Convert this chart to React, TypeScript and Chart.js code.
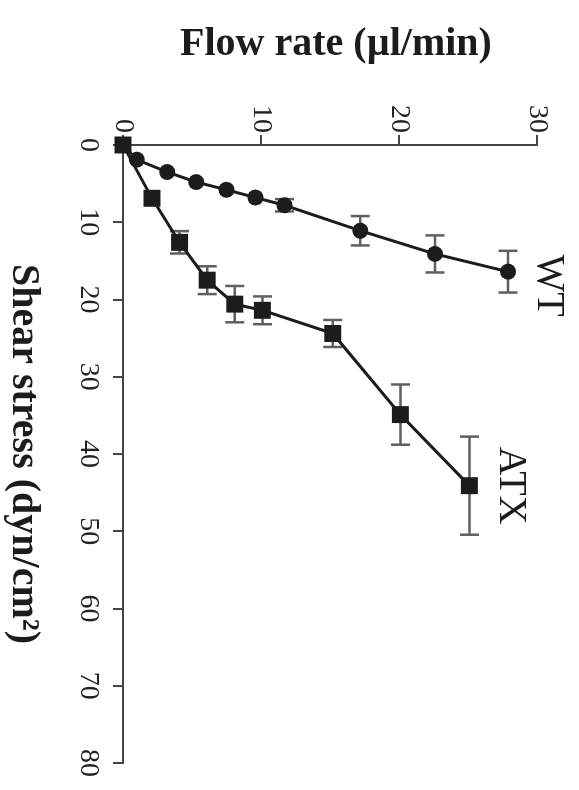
import React, { useEffect, useRef } from "react";
import { Chart, registerables } from "chart.js";

Chart.register(...registerables);

// Data (shear stress in dyn/cm², flow rate in µl/min); error bars are SD on shear stress
const wtShear = [0, 1.9, 3.5, 4.8, 5.8, 6.8, 7.8, 11.1, 14.1, 16.4];
const wtFlow = [0, 1.0, 3.2, 5.3, 7.5, 9.6, 11.7, 17.2, 22.6, 27.9];
const wtSD = [0, 0, 0, 0, 0, 0, 0.8, 1.9, 2.4, 2.7];

const atxShear = [0, 6.9, 12.6, 17.5, 20.6, 21.4, 24.4, 34.9, 44.1];
const atxFlow = [0, 2.1, 4.1, 6.1, 8.1, 10.1, 15.2, 20.1, 25.1];
const atxSD = [0, 0, 1.45, 1.8, 2.35, 1.8, 1.75, 3.9, 6.35];

const seriesNames = ["WT", "ATX"];
const shearTicks = [0, 10, 20, 30, 40, 50, 60, 70, 80];
const flowTicks = [0, 10, 20, 30];
const shearTitle = "Shear stress (dyn/cm²)";
const flowTitle = "Flow rate (µl/min)";

const INK = "#1c1c1c";
const SERIF = "'Liberation Serif', 'Times New Roman', serif";

const decorPlugin = {
  id: "decor",
  beforeDatasetsDraw(chart: any) {
    const { ctx, scales } = chart;
    const x = scales.x;
    const y = scales.y;
    ctx.save();
    ctx.strokeStyle = "#606060";
    ctx.lineWidth = 2.5;
    const cap = 9.5;
    const drawBars = (sh: number[], fl: number[], sd: number[]) => {
      sh.forEach((s, i) => {
        if (!sd[i]) return;
        const py = y.getPixelForValue(fl[i]);
        const x1 = x.getPixelForValue(s - sd[i]);
        const x2 = x.getPixelForValue(s + sd[i]);
        ctx.beginPath();
        ctx.moveTo(x1, py);
        ctx.lineTo(x2, py);
        ctx.moveTo(x1, py - cap);
        ctx.lineTo(x1, py + cap);
        ctx.moveTo(x2, py - cap);
        ctx.lineTo(x2, py + cap);
        ctx.stroke();
      });
    };
    drawBars(wtShear, wtFlow, wtSD);
    drawBars(atxShear, atxFlow, atxSD);
    ctx.restore();
  },
  afterDraw(chart: any) {
    const { ctx, scales, chartArea } = chart;
    const x = scales.x;
    const y = scales.y;
    ctx.save();
    ctx.fillStyle = INK;
    // axis titles
    ctx.font = `bold 40px ${SERIF}`;
    ctx.textAlign = "center";
    ctx.textBaseline = "alphabetic";
    ctx.fillText(shearTitle, (chartArea.left + chartArea.right) / 2, 566);
    ctx.save();
    ctx.translate(55, (chartArea.top + chartArea.bottom) / 2 - 6);
    ctx.rotate(-Math.PI / 2);
    ctx.fillText(flowTitle, 0, 0);
    ctx.restore();
    // series labels next to last points
    ctx.font = `40px ${SERIF}`;
    const wtLast = wtShear.length - 1;
    ctx.fillText(
      seriesNames[0],
      x.getPixelForValue(wtShear[wtLast]) + 14,
      y.getPixelForValue(wtFlow[wtLast]) - 30
    );
    const atxLast = atxShear.length - 1;
    ctx.fillText(
      seriesNames[1],
      x.getPixelForValue(atxShear[atxLast]),
      y.getPixelForValue(atxFlow[atxLast]) - 31
    );
    ctx.restore();
  },
};

export default function App() {
  const canvasRef = useRef<HTMLCanvasElement | null>(null);

  useEffect(() => {
    if (!canvasRef.current) return;
    const chart = new Chart(canvasRef.current, {
      type: "scatter",
      data: {
        datasets: [
          {
            label: seriesNames[1],
            data: atxShear.map((s, i) => ({ x: s, y: atxFlow[i] })),
            showLine: true,
            borderColor: INK,
            backgroundColor: INK,
            borderWidth: 3,
            pointStyle: "rect",
            pointRadius: 12,
            pointBorderWidth: 0,
            pointBackgroundColor: INK,
            clip: false,
          } as any,
          {
            label: seriesNames[0],
            data: wtShear.map((s, i) => ({ x: s, y: wtFlow[i] })),
            showLine: true,
            borderColor: INK,
            backgroundColor: INK,
            borderWidth: 3,
            pointStyle: "circle",
            pointRadius: 8,
            pointBorderWidth: 0,
            pointBackgroundColor: INK,
            clip: false,
          } as any,
        ],
      },
      options: {
        animation: false,
        responsive: false,
        maintainAspectRatio: false,
        layout: { padding: { left: 0, right: 27, top: 42, bottom: 0 } },
        plugins: {
          legend: { display: false },
          tooltip: { enabled: false },
          title: { display: false },
        },
        scales: {
          x: {
            type: "linear",
            position: "bottom",
            min: shearTicks[0],
            max: shearTicks[shearTicks.length - 1],
            afterFit: (scale: any) => {
              scale.height = 123;
            },
            afterBuildTicks: (scale: any) => {
              scale.ticks = shearTicks.map((v) => ({ value: v }));
            },
            ticks: {
              autoSkip: false,
              maxRotation: 0,
              minRotation: 0,
              padding: 8,
              color: "#222",
              font: { family: SERIF, size: 28 },
            },
            grid: {
              display: true,
              drawOnChartArea: false,
              drawTicks: true,
              tickLength: 10,
              color: "#444",
              lineWidth: 2,
            },
            border: { display: true, color: "#444", width: 2 },
          },
          y: {
            type: "linear",
            position: "left",
            min: flowTicks[0],
            max: flowTicks[flowTicks.length - 1],
            afterFit: (scale: any) => {
              scale.width = 145;
            },
            afterBuildTicks: (scale: any) => {
              scale.ticks = flowTicks.map((v) => ({ value: v }));
            },
            ticks: {
              autoSkip: false,
              padding: 2,
              color: "#222",
              font: { family: SERIF, size: 28 },
            },
            grid: {
              display: true,
              drawOnChartArea: false,
              drawTicks: true,
              tickLength: 10,
              color: "#444",
              lineWidth: 2,
            },
            border: { display: true, color: "#444", width: 2 },
          },
        },
      },
      plugins: [decorPlugin],
    } as any);
    return () => chart.destroy();
  }, []);

  return (
    <div
      style={{
        position: "fixed",
        left: 0,
        top: 0,
        width: 579,
        height: 790,
        overflow: "hidden",
        background: "#fff",
      }}
    >
      <div
        style={{
          position: "absolute",
          left: 0,
          top: 0,
          width: 790,
          height: 579,
          transformOrigin: "0 0",
          transform: "translate(579px, 0px) rotate(90deg)",
        }}
      >
        <canvas ref={canvasRef} width={790} height={579} style={{ width: 790, height: 579, display: "block" }} />
      </div>
    </div>
  );
}
